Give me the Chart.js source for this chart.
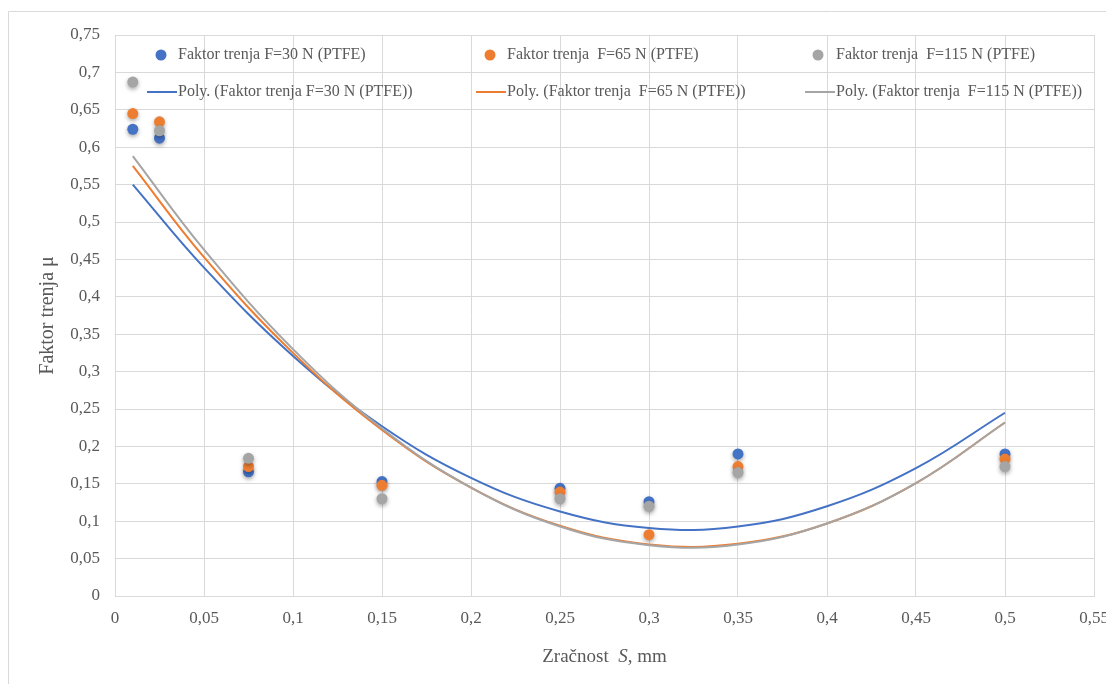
<!DOCTYPE html>
<html>
<head>
<meta charset="utf-8">
<script src="https://cdn.jsdelivr.net/npm/chart.js@4.4.1/dist/chart.umd.min.js"></script>
<style>
  body { margin: 0; background: #fff; }
  #wrap { width: 1106px; height: 684px; }
</style>
</head>
<body>
<div id="wrap"><canvas id="frictionChart" width="1106" height="684"></canvas></div>
<script>
// Measured points (clearance S in mm vs friction factor)
const sValues = [0.01, 0.025, 0.075, 0.15, 0.25, 0.3, 0.35, 0.5];
const mu30 = [0.624, 0.612, 0.166, 0.153, 0.144, 0.126, 0.190, 0.190];
const mu65 = [0.645, 0.634, 0.173, 0.148, 0.139, 0.082, 0.173, 0.183];
const mu115 = [0.687, 0.622, 0.184, 0.130, 0.130, 0.120, 0.165, 0.173];

// Poly trend lines
const trendS = [0.01, 0.05, 0.1, 0.15, 0.2, 0.25, 0.3, 0.35, 0.4, 0.45, 0.5];
const trend30 = [0.550, 0.439, 0.321, 0.227, 0.158, 0.113, 0.091, 0.093, 0.120, 0.171, 0.245];
const trend65 = [0.575, 0.453, 0.325, 0.222, 0.145, 0.094, 0.069, 0.070, 0.097, 0.151, 0.232];
const trend115 = [0.588, 0.463, 0.330, 0.224, 0.145, 0.093, 0.068, 0.069, 0.097, 0.151, 0.232];

const seriesNames = [
    'Faktor trenja F=30 N (PTFE)',
    'Faktor trenja  F=65 N (PTFE)',
    'Faktor trenja  F=115 N (PTFE)'
];
const colors = ['#4472C4', '#ED7D31', '#A5A5A5'];

const serif = "'Liberation Serif', 'Times New Roman', serif";
const gridColor = '#d9d9d9';
const textColor = '#595959';

function toPoints(xs, ys) {
    return xs.map((x, i) => ({ x: x, y: ys[i] }));
}

function fmt(v) {
    return Number(v.toFixed(2)).toString().replace('.', ',');
}

const pointSets = [mu30, mu65, mu115].map((ys, i) => ({
    label: seriesNames[i],
    data: toPoints(sValues, ys),
    backgroundColor: colors[i],
    borderColor: colors[i],
    pointRadius: 5.5,
    pointHoverRadius: 5.5,
    borderWidth: 0,
    showLine: false,
    order: 6 - i,
    isMarker: true
}));

const lineSets = [trend30, trend65, trend115].map((ys, i) => ({
    label: 'Poly. (' + seriesNames[i] + ')',
    data: toPoints(trendS, ys),
    borderColor: colors[i],
    backgroundColor: colors[i],
    borderWidth: 2,
    pointRadius: 0,
    showLine: true,
    tension: 0.4,
    order: 3 - i
}));

// soft shadow under markers
const markerShadow = {
    id: 'markerShadow',
    beforeDatasetDraw(chart, args) {
        const ds = chart.data.datasets[args.index];
        chart.ctx.save();
        if (ds.isMarker) {
            chart.ctx.shadowColor = 'rgba(0,0,0,0.35)';
            chart.ctx.shadowBlur = 4;
            chart.ctx.shadowOffsetY = 2;
        }
    },
    afterDatasetDraw(chart) {
        chart.ctx.restore();
    }
};

// legend sits inside the plot, 2 rows x 3 columns
const legendPos = [
    { mx: 161, tx: 178 },
    { mx: 490, tx: 507 },
    { mx: 818, tx: 836 }
];
const insideLegend = {
    id: 'insideLegend',
    afterDraw(chart) {
        const ctx = chart.ctx;
        ctx.save();
        ctx.font = '16px ' + serif;
        ctx.fillStyle = textColor;
        ctx.textBaseline = 'middle';
        ctx.textAlign = 'left';
        legendPos.forEach((p, i) => {
            // marker row
            ctx.beginPath();
            ctx.fillStyle = colors[i];
            ctx.arc(p.mx, 55, 5.5, 0, Math.PI * 2);
            ctx.fill();
            ctx.fillStyle = textColor;
            ctx.fillText(pointSets[i].label, p.tx, 55);
            // line row
            ctx.beginPath();
            ctx.strokeStyle = colors[i];
            ctx.lineWidth = 2;
            ctx.moveTo(p.tx - 31, 92);
            ctx.lineTo(p.tx - 1, 92);
            ctx.stroke();
            ctx.fillText(lineSets[i].label, p.tx, 92);
        });
        ctx.restore();
    }
};

// x title with italic S, plus the outer frame lines
const extras = {
    id: 'extras',
    afterDraw(chart) {
        const ctx = chart.ctx;
        const area = chart.chartArea;
        ctx.save();
        ctx.strokeStyle = gridColor;
        ctx.lineWidth = 1;
        ctx.beginPath();
        ctx.moveTo(8.5, 684);
        ctx.lineTo(8.5, 11.5);
        ctx.lineTo(1106, 11.5);
        ctx.stroke();

        const parts = [
            { t: 'Zračnost  ', f: '19px ' + serif },
            { t: 'S', f: 'italic 19px ' + serif },
            { t: ', mm', f: '19px ' + serif }
        ];
        let total = 0;
        parts.forEach(p => { ctx.font = p.f; p.w = ctx.measureText(p.t).width; total += p.w; });
        let x = (area.left + area.right) / 2 - total / 2;
        ctx.fillStyle = textColor;
        ctx.textBaseline = 'middle';
        ctx.textAlign = 'left';
        parts.forEach(p => { ctx.font = p.f; ctx.fillText(p.t, x, 657); x += p.w; });
        ctx.restore();
    }
};

new Chart(document.getElementById('frictionChart'), {
    type: 'scatter',
    data: { datasets: pointSets.concat(lineSets) },
    options: {
        responsive: false,
        animation: false,
        layout: { padding: { top: 35, right: 12, left: 0, bottom: 0 } },
        plugins: {
            legend: { display: false },
            tooltip: { enabled: false }
        },
        scales: {
            x: {
                type: 'linear',
                min: 0,
                max: 0.55,
                afterFit: s => { s.height = 88; s.paddingLeft = 0; s.paddingRight = 0; },
                ticks: {
                    stepSize: 0.05,
                    padding: 12,
                    color: textColor,
                    font: { family: serif, size: 17 },
                    callback: v => fmt(v)
                },
                grid: { color: gridColor, drawTicks: false },
                border: { color: gridColor }
            },
            y: {
                min: 0,
                max: 0.75,
                afterFit: s => { s.width = 115; s.paddingTop = 0; s.paddingBottom = 0; },
                ticks: {
                    stepSize: 0.05,
                    padding: 15,
                    color: textColor,
                    font: { family: serif, size: 17 },
                    callback: v => fmt(v)
                },
                grid: { color: gridColor, drawTicks: false },
                border: { color: gridColor },
                title: {
                    display: true,
                    text: 'Faktor trenja μ',
                    color: textColor,
                    font: { family: serif, size: 20 },
                    padding: { top: 36, bottom: 0 }
                }
            }
        }
    },
    plugins: [markerShadow, insideLegend, extras]
});
</script>
</body>
</html>
